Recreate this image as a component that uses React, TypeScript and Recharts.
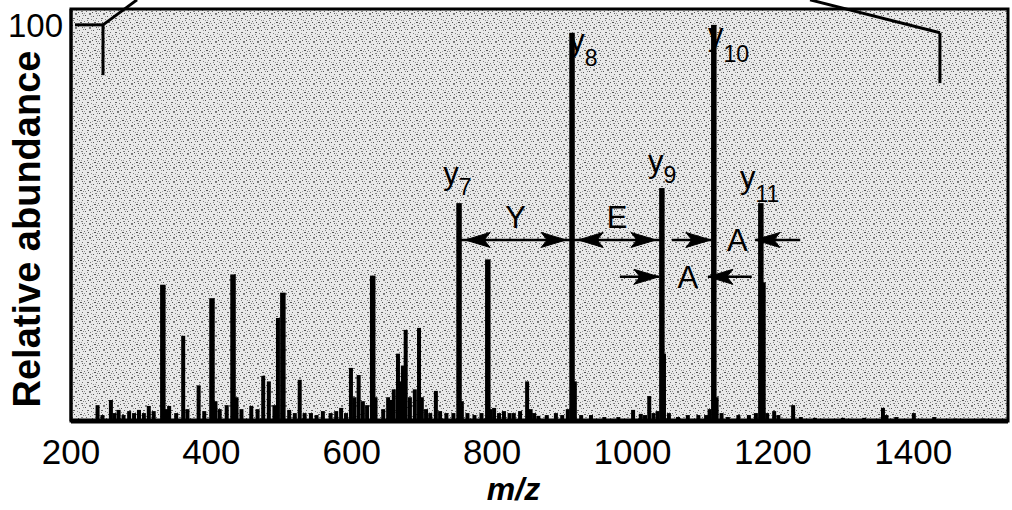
import React from 'react';
import {
  ComposedChart,
  Bar,
  XAxis,
  YAxis,
  CartesianGrid,
  ReferenceArea,
  ReferenceLine,
  ReferenceDot,
} from 'recharts';

// ---------- data ----------
const mzValues = [
  238, 245, 257, 262, 268, 275, 283, 290, 297, 304, 311, 318, 331, 336, 340, 350, 360, 366, 382, 390,
  401, 406, 412, 422, 431, 436, 443, 457, 466, 474, 482, 490, 495, 502, 511, 519, 526, 533, 542, 550,
  559, 570, 578, 585, 592, 599, 604, 610, 616, 622, 630, 634, 645, 652, 656, 660, 666, 670, 673, 677,
  683, 690, 696, 700, 706, 712, 720, 726, 735, 745, 753, 757, 765, 775, 785, 794, 798, 803, 810, 817,
  825, 831, 840, 850, 855, 860, 866, 878, 891, 900, 908, 914, 918, 927, 941, 960, 980, 1001, 1012, 1018,
  1024, 1030, 1036, 1042, 1045, 1052, 1065, 1079, 1094, 1105, 1110, 1116, 1120, 1127, 1136, 1151, 1166, 1176, 1183, 1186,
  1192, 1202, 1208, 1229, 1240, 1260, 1300, 1330, 1357, 1362, 1376, 1401, 1430, 1460, 1500,
];
const abundances = [
  4, 1.5, 5.3, 2, 2.8, 1.5, 2.5, 2, 2.8, 2, 3.8, 2.5, 34.4, 3, 3.8, 2, 21.5, 3, 9, 2.5,
  31, 5, 3, 4, 37, 6, 3, 3.8, 3, 11.4, 10, 4, 26, 32.4, 2.8, 2, 10.4, 2, 2, 1.5,
  2.5, 2, 2.5, 3.3, 2, 13.4, 6, 11.6, 5, 4, 36.7, 6, 3, 6, 5.3, 8, 17, 10, 14, 23,
  6, 8, 23.5, 6, 3, 2, 7.6, 2.5, 2, 2, 55, 5, 2, 1.5, 2, 40.8, 3, 3.3, 2, 2.5,
  2, 2, 2.5, 10, 3, 2, 1.3, 1.5, 2, 1.5, 3, 98, 10, 1.5, 1.5, 1, 1, 2.8, 1.8, 1.5,
  6.3, 2, 2.5, 58.8, 17, 2, 1, 1.5, 1.5, 1.5, 3, 100, 6, 2, 1, 1.5, 1.5, 2, 55, 35,
  2, 2.5, 1.5, 4, 1, 0.8, 0.8, 0.8, 3.3, 1.5, 1, 2, 1, 0.6, 0.6,
];
const spectrum = mzValues.map((mz, i) => ({ mz, ab: abundances[i] }));

const xTicks = [200, 400, 600, 800, 1000, 1200, 1400];
const yTicks = [100];
const xDomain = [200, 1535];
const yDomain = [0, 104];

// fragment ions (y series)
const ionSubscripts = ['7', '8', '9', '10', '11'];
const ionMz = [753, 914, 1042, 1116, 1183];
const ionAbundance = [55, 98, 58.8, 100, 55];

// residue gaps between ions
const residueLetters = ['Y', 'E', 'A', 'A'];
const residueFrom = [753, 914, 1116, 1042];
const residueTo = [914, 1042, 1183, 1116];
const residueLevel = [45.7, 45.7, 45.7, 36.4];
const residueStyle = ['double', 'double', 'outside', 'outside'];
// outside arrows: tail positions (m/z) on each side
const outsideTailLeft = [0, 0, 1056, 982];
const outsideTailRight = [0, 0, 1239, 1170];

// zoom bracket (inset marker)
const bracketLeft = { mz: 245.6, top: 100, bottom: 87.3, tickFrom: 205.7, diagTo: { mz: 294, ab: 106.3 } };
const bracketRight = { mz: 1438, top: 98, bottom: 85.3, diagTo: { mz: 1253, ab: 106.3 } };

// ---------- styles ----------
const FONT = '"Liberation Sans", Arial, Helvetica, sans-serif';
const ionLabelStyle = [
  { dx: -16, dy: -19, subDy: 11 },
  { dx: -3, dy: 18, subDy: 15 },
  { dx: -14, dy: -16, subDy: 11 },
  { dx: -6, dy: 20, subDy: 17 },
  { dx: -21, dy: -15, subDy: 14 },
];

const stippleDots: [number, number, number, number][] = [
  [1, 1, 1, 0.9], [5, 0, 2, 0.6], [9, 2, 1, 0.9], [12, 4, 1, 0.7], [3, 4, 2, 0.8], [7, 5, 1, 0.6],
  [0, 7, 1, 0.7], [10, 8, 2, 0.9], [4, 8, 1, 0.9], [6, 10, 1, 0.7], [11, 11, 2, 0.6], [2, 11, 1, 0.8],
  [8, 12, 1, 0.9], [13, 1, 1, 0.6], [5, 13, 2, 0.7], [12, 13, 1, 0.8], [1, 9, 1, 0.5], [9, 6, 1, 0.5],
  [7, 2, 1, 0.5], [3, 6, 1, 0.6], [13, 9, 1, 0.6], [0, 13, 1, 0.5], [8, 9, 1, 0.4], [11, 6, 1, 0.4],
];

const Arrowhead = ({ tipX, y, dir }: { tipX: number; y: number; dir: number }) => {
  const L = 25;
  const H = 7.5;
  const baseX = tipX - dir * L;
  const notchX = tipX - dir * (L - 6);
  return (
    <path
      d={`M${tipX},${y} L${baseX},${y - H} L${notchX},${y} L${baseX},${y + H} Z`}
      fill="#000"
      stroke="#000"
      strokeWidth={1}
    />
  );
};

const makeDoubleArrow = (gap: number) => (p: any) => {
  const { x1, x2, y1 } = p;
  const a = Math.min(x1, x2);
  const b = Math.max(x1, x2);
  return (
    <g>
      <line x1={a} y1={y1} x2={b} y2={y1} stroke="#000" strokeWidth={2.5} />
      <Arrowhead tipX={a + gap} y={y1} dir={-1} />
      <Arrowhead tipX={b - gap} y={y1} dir={1} />
    </g>
  );
};

const makeSingleArrow = (gap: number) => (p: any) => {
  const { x1, x2, y1 } = p;
  const dir = x2 > x1 ? 1 : -1;
  const tip = x2 - dir * gap;
  return (
    <g>
      <line x1={x1} y1={y1} x2={tip} y2={y1} stroke="#000" strokeWidth={2.5} />
      <Arrowhead tipX={tip} y={y1} dir={dir} />
    </g>
  );
};

const ionLabelShape = (i: number) => (p: any) => {
  const { cx, cy } = p;
  const s = ionLabelStyle[i];
  return (
    <text x={cx + s.dx} y={cy + s.dy} fontFamily={FONT} fontSize={31} fill="#000">
      <tspan>y</tspan>
      <tspan fontSize={23} dy={s.subDy}>
        {ionSubscripts[i]}
      </tspan>
    </text>
  );
};

const residueLabelShape = (i: number) => (p: any) => {
  const { cx, cy } = p;
  const above = residueStyle[i] === 'double';
  return (
    <text
      x={cx}
      y={above ? cy - 12 : cy + 11}
      textAnchor="middle"
      fontFamily={FONT}
      fontSize={31}
      fill="#000"
    >
      {residueLetters[i]}
    </text>
  );
};

const StickShape = (p: any) => {
  const { x, y, width, height, payload } = p;
  if (!height || height <= 0) return null;
  const cx = x + width / 2;
  const w = payload && payload.ab > 30 ? 5.5 : 4;
  return <rect x={cx - w / 2} y={y} width={w} height={height + 1} fill="#000" />;
};

const YLabel = (props: any) => {
  const vb = props.viewBox || { x: 0, y: 9, width: 71, height: 412 };
  const x = vb.x + 40;
  const y = vb.y + vb.height / 2 + 14;
  return (
    <text
      x={x}
      y={y}
      transform={`rotate(-90, ${x}, ${y})`}
      textAnchor="middle"
      fontFamily={FONT}
      fontWeight="bold"
      fontSize={38}
      fill="#000"
    >
      Relative abundance
    </text>
  );
};

const XLabel = (props: any) => {
  const vb = props.viewBox || { x: 71, y: 421, width: 937, height: 89 };
  return (
    <text
      x={vb.x + vb.width / 2 - 26}
      y={vb.y + vb.height - 10}
      textAnchor="middle"
      fontFamily={FONT}
      fontWeight="bold"
      fontStyle="italic"
      fontSize={32}
      fill="#000"
    >
      m/z
    </text>
  );
};

const bracketStroke = { stroke: '#000', strokeWidth: 3 };

export default function App() {
  return (
    <div style={{ position: 'absolute', left: 0, top: 0, width: 1012, height: 510, background: '#fff' }}>
      <svg width={0} height={0} style={{ position: 'absolute' }}>
        <defs>
          <pattern id="stipple" width={14} height={14} patternUnits="userSpaceOnUse">
            <rect width={14} height={14} fill="#e9e9e9" />
            {stippleDots.map(([x, y, w, o], i) => (
              <rect key={i} x={x} y={y} width={w} height={1} fill="#404040" opacity={o} />
            ))}
          </pattern>
        </defs>
      </svg>
      <ComposedChart
        width={1012}
        height={510}
        data={spectrum}
        margin={{ top: 9, right: 4, bottom: 0, left: 0 }}
      >
        <CartesianGrid fill="url(#stipple)" stroke="#000" strokeOpacity={0} />
        <XAxis
          dataKey="mz"
          type="number"
          domain={xDomain}
          allowDataOverflow
          ticks={xTicks}
          interval={0}
          height={89}
          tickSize={0}
          tickMargin={18}
          tickLine={false}
          axisLine={{ stroke: '#000', strokeWidth: 5 }}
          tick={{ fill: '#000', fontSize: 35, fontFamily: FONT }}
          label={XLabel}
        />
        <YAxis
          type="number"
          domain={yDomain}
          allowDataOverflow
          ticks={yTicks}
          interval={0}
          width={71}
          tickSize={0}
          tickMargin={8}
          tickLine={false}
          axisLine={{ stroke: '#000', strokeWidth: 3 }}
          tick={{ fill: '#000', fontSize: 33, fontFamily: FONT }}
          label={YLabel}
        />
        <ReferenceArea
          x1={xDomain[0]}
          x2={xDomain[1]}
          y1={yDomain[0]}
          y2={yDomain[1]}
          fill="none"
          fillOpacity={0}
          stroke="#000"
          strokeWidth={3}
          ifOverflow="visible"
        />
        <Bar dataKey="ab" barSize={4} shape={StickShape} isAnimationActive={false} />

        {/* zoom bracket */}
        <ReferenceLine
          segment={[{ x: bracketLeft.tickFrom, y: bracketLeft.top }, { x: bracketLeft.mz, y: bracketLeft.top }]}
          ifOverflow="visible"
          {...bracketStroke}
        />
        <ReferenceLine
          segment={[{ x: bracketLeft.mz, y: bracketLeft.top }, { x: bracketLeft.mz, y: bracketLeft.bottom }]}
          ifOverflow="visible"
          {...bracketStroke}
        />
        <ReferenceLine
          segment={[{ x: bracketLeft.mz, y: bracketLeft.top }, { x: bracketLeft.diagTo.mz, y: bracketLeft.diagTo.ab }]}
          ifOverflow="visible"
          {...bracketStroke}
        />
        <ReferenceLine
          segment={[{ x: bracketRight.mz, y: bracketRight.top }, { x: bracketRight.mz, y: bracketRight.bottom }]}
          ifOverflow="visible"
          {...bracketStroke}
        />
        <ReferenceLine
          segment={[{ x: bracketRight.mz, y: bracketRight.top }, { x: bracketRight.diagTo.mz, y: bracketRight.diagTo.ab }]}
          ifOverflow="visible"
          {...bracketStroke}
        />

        {/* residue arrows */}
        {residueLetters.map((_, i) =>
          residueStyle[i] === 'double' ? (
            <ReferenceLine
              key={`ra${i}`}
              segment={[{ x: residueFrom[i], y: residueLevel[i] }, { x: residueTo[i], y: residueLevel[i] }]}
              ifOverflow="visible"
              shape={makeDoubleArrow(6)}
            />
          ) : null
        )}
        {residueLetters.map((_, i) =>
          residueStyle[i] === 'outside' ? (
            <ReferenceLine
              key={`rl${i}`}
              segment={[{ x: outsideTailLeft[i], y: residueLevel[i] }, { x: residueFrom[i], y: residueLevel[i] }]}
              ifOverflow="visible"
              shape={makeSingleArrow(3)}
            />
          ) : null
        )}
        {residueLetters.map((_, i) =>
          residueStyle[i] === 'outside' ? (
            <ReferenceLine
              key={`rr${i}`}
              segment={[{ x: outsideTailRight[i], y: residueLevel[i] }, { x: residueTo[i], y: residueLevel[i] }]}
              ifOverflow="visible"
              shape={makeSingleArrow(-6)}
            />
          ) : null
        )}
        {residueLetters.map((_, i) => (
          <ReferenceDot
            key={`rt${i}`}
            x={(residueFrom[i] + residueTo[i]) / 2}
            y={residueLevel[i]}
            r={0}
            ifOverflow="visible"
            shape={residueLabelShape(i)}
          />
        ))}

        {/* ion labels */}
        {ionMz.map((mz, i) => (
          <ReferenceDot
            key={`ion${i}`}
            x={mz}
            y={ionAbundance[i]}
            r={0}
            ifOverflow="visible"
            shape={ionLabelShape(i)}
          />
        ))}
      </ComposedChart>
    </div>
  );
}
